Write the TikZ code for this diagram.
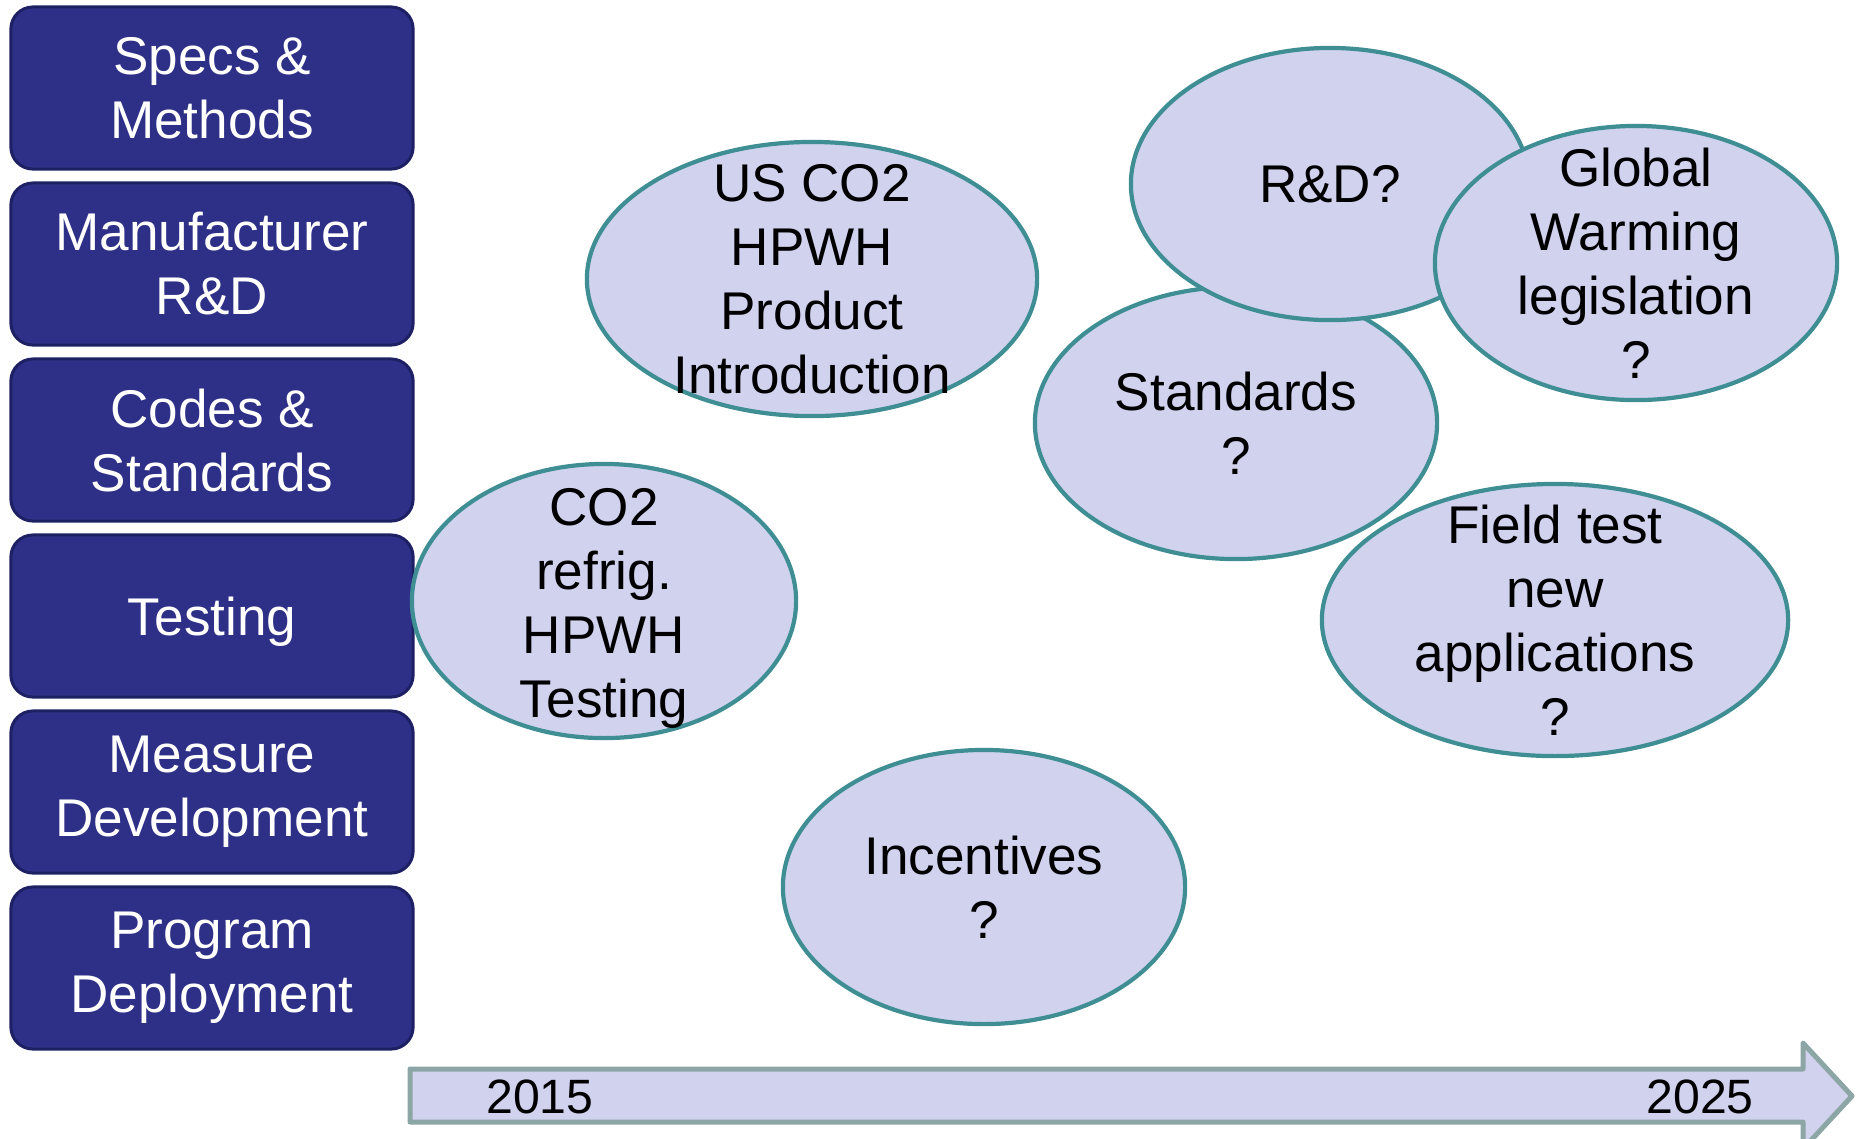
\documentclass[tikz,border=0pt]{standalone}
\usepackage{fontspec}
\setmainfont{Liberation Sans}
\usepackage{xcolor}
\usepackage{tikz}
\usetikzlibrary{shapes.geometric}
\definecolor{boxblue}{RGB}{46,48,135}
\definecolor{boxedge}{RGB}{30,32,100}
\definecolor{lavender}{RGB}{208,210,238}
\definecolor{tealedge}{RGB}{62,142,148}
\definecolor{arrowedge}{RGB}{140,165,165}
\tikzset{
  stagebox/.style={rectangle, rounded corners=0.22cm, draw=boxedge, line width=0.03cm, fill=boxblue,
    text=white, align=center, minimum width=4.02cm, minimum height=1.62cm,
    font=\fontsize{15.1}{18.2}\selectfont},
  bubble/.style={ellipse, draw=tealedge, line width=0.042cm, fill=lavender, inner sep=0},
  bubbletext/.style={align=center, inner sep=0, font=\fontsize{15.1}{18.2}\selectfont},
  yearlabel/.style={font=\fontsize{13.7}{16}\selectfont}
}

\begin{document}
\begin{tikzpicture}[x=0.01cm, y=-0.01cm, line join=round]
\useasboundingbox (0,0) rectangle (1858,1138);
 % stages
 \node[stagebox] (specs)   at (212,88)  {Specs \&\\Methods};
 \node[stagebox] (mfr)     at (212,264) {Manufacturer\\R\&D};
 \node[stagebox] (codes)   at (212,440) {Codes \&\\Standards};
 \node[stagebox, text depth=0pt] (testing) at (212,616) {Testing};
 \node[stagebox] (measure) at (212,792) {Measure\\Development};
 \node[stagebox] (program) at (212,968) {Program\\Deployment};
 % timeline
 \draw[draw=arrowedge, fill=lavender, line width=0.05cm]
   (410,1069) -- (1803,1069) -- (1803,1043) -- (1852,1096) -- (1803,1149)
   -- (1803,1122) -- (410,1122) -- cycle;
 \node[yearlabel] (y2015) at (540,1097) {2015};
 \node[yearlabel] (y2025) at (1700,1097) {2025};
 % bubbles
 \node[bubble, minimum width=4.50cm, minimum height=2.74cm,
   label={[bubbletext]center:{US CO2\\HPWH\\Product\\Introduction}}] (intro) at (812,279) {};
 \node[bubble, minimum width=3.84cm, minimum height=2.74cm,
   label={[bubbletext, yshift=-0.07cm]center:{CO2\\refrig.\\HPWH\\Testing}}] (co2test) at (604,601) {};
 \node[bubble, minimum width=4.02cm, minimum height=2.74cm,
   label={[bubbletext]center:{Incentives\\?}}] (incent) at (984,887) {};
 \node[bubble, minimum width=4.02cm, minimum height=2.72cm,
   label={[bubbletext]center:{Standards\\?}}] (stds) at (1236,423) {};
 \node[bubble, minimum width=3.98cm, minimum height=2.72cm,
   label={[bubbletext]center:{R\&D?}}] (rnd) at (1330,184) {};
 \node[bubble, minimum width=4.02cm, minimum height=2.74cm,
   label={[bubbletext]center:{Global\\Warming\\legislation\\?}}] (gwl) at (1636,263) {};
 \node[bubble, minimum width=4.66cm, minimum height=2.72cm,
   label={[bubbletext]center:{Field test\\new\\applications\\?}}] (field) at (1555,620) {};
\end{tikzpicture}
\end{document}
